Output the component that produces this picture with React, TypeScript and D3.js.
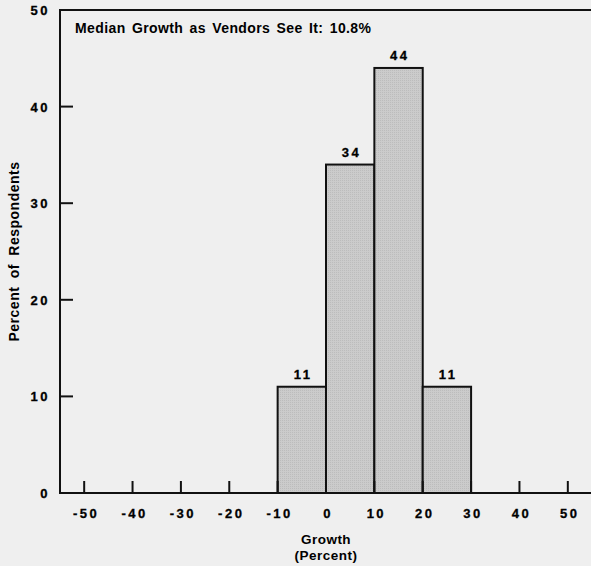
import React, { useRef, useEffect } from 'react';
import * as d3 from 'd3';

// Growth bins (percent) and share of respondents
const binStarts = [-10, 0, 10, 20];
const binWidth = 10;
const respondents = [11, 34, 44, 11];
const xTicks = [-50, -40, -30, -20, -10, 0, 10, 20, 30, 40, 50];
const yTicks = [0, 10, 20, 30, 40, 50];
const title = 'Median Growth as Vendors See It: 10.8%';

const W = 591;
const H = 566;

const App = () => {
  const svgRef = useRef<SVGSVGElement>(null);

  useEffect(() => {
    const svg = d3.select(svgRef.current);
    svg.selectAll('*').remove();

    const font = '"Liberation Sans", Arial, Helvetica, sans-serif';
    const x = d3.scaleLinear().domain([-55, 55]).range([60, 592]);
    const y = d3.scaleLinear().domain([0, 50]).range([493, 10]);

    svg.append('rect').attr('width', W).attr('height', H).attr('fill', '#efefef');

    // stipple pattern for the bars
    const pat = svg.append('defs').append('pattern')
      .attr('id', 'stip').attr('width', 2).attr('height', 2)
      .attr('patternUnits', 'userSpaceOnUse');
    pat.append('rect').attr('width', 2).attr('height', 2).attr('fill', '#cbcbcb');
    pat.append('rect').attr('width', 1).attr('height', 1).attr('fill', '#bcbcbc');

    // bars
    const data = binStarts.map((s, i) => ({ s, v: respondents[i] }));
    svg.selectAll('.bar')
      .data(data)
      .enter()
      .append('rect')
      .attr('class', 'bar')
      .attr('x', d => x(d.s))
      .attr('y', d => y(d.v))
      .attr('width', d => x(d.s + binWidth) - x(d.s))
      .attr('height', d => y(0) - y(d.v))
      .attr('fill', 'url(#stip)')
      .attr('stroke', '#111')
      .attr('stroke-width', 2);

    // numbers with wide letter spacing (tick labels, bar labels)
    const num = (sel: any) => sel
      .style('font-family', font)
      .style('font-weight', 'bold')
      .style('font-size', '13px')
      .style('letter-spacing', '2.5px')
      .attr('fill', '#000')
      .attr('stroke', '#000')
      .attr('stroke-width', 0.3);

    // bar value labels
    svg.selectAll('.lbl')
      .data(data)
      .enter()
      .append('text')
      .attr('x', d => x(d.s + binWidth / 2) + 1.25)
      .attr('y', d => y(d.v) - 8)
      .attr('text-anchor', 'middle')
      .call(num)
      .text(d => String(d.v));

    // frame: left axis, top line, bottom axis
    const line = (x1: number, y1: number, x2: number, y2: number, w = 2) =>
      svg.append('line').attr('x1', x1).attr('y1', y1).attr('x2', x2).attr('y2', y2)
        .attr('stroke', '#111').attr('stroke-width', w);
    line(x.range()[0], y(50), W, y(50));
    line(x.range()[0], y(50) - 1, x.range()[0], y(0) + 1);
    line(x.range()[0], y(0), W, y(0));

    // y ticks
    yTicks.forEach(t => {
      if (t > 0 && t < 50) line(x.range()[0], y(t), x.range()[0] + 13, y(t));
      svg.append('text')
        .attr('x', 50).attr('y', y(t) + 5)
        .attr('text-anchor', 'end')
        .call(num)
        .text(String(t));
    });

    // x ticks
    xTicks.forEach(t => {
      line(x(t), y(0), x(t), y(0) - 12);
      svg.append('text')
        .attr('x', x(t) + 2).attr('y', 518)
        .attr('text-anchor', 'middle')
        .call(num)
        .text(t < 0 ? '-' + Math.abs(t) : String(t));
    });

    // title inside the plot
    svg.append('text')
      .attr('x', 75).attr('y', 33)
      .style('font-family', font).style('font-weight', 'bold').style('font-size', '14px')
      .style('letter-spacing', '0.4px')
      .style('word-spacing', '2px')
      .attr('fill', '#000')
      .text(title);

    // x-axis label
    const xl = svg.append('text')
      .attr('text-anchor', 'middle')
      .style('font-family', font).style('font-weight', 'bold').style('font-size', '13.5px')
      .style('letter-spacing', '0.5px')
      .attr('fill', '#000');
    xl.append('tspan').attr('x', x(0)).attr('y', 544).text('Growth');
    xl.append('tspan').attr('x', x(0)).attr('y', 560).text('(Percent)');

    // y-axis label
    svg.append('text')
      .attr('transform', `translate(19, ${y(25)}) rotate(-90)`)
      .attr('text-anchor', 'middle')
      .style('font-family', font).style('font-weight', 'bold').style('font-size', '14px')
      .style('letter-spacing', '0.5px')
      .style('word-spacing', '4px')
      .attr('fill', '#000')
      .text('Percent of Respondents');
  }, []);

  return (
    <svg
      ref={svgRef}
      width={W}
      height={H}
      style={{ position: 'absolute', left: 0, top: 0, display: 'block' }}
    />
  );
};

export default App;
